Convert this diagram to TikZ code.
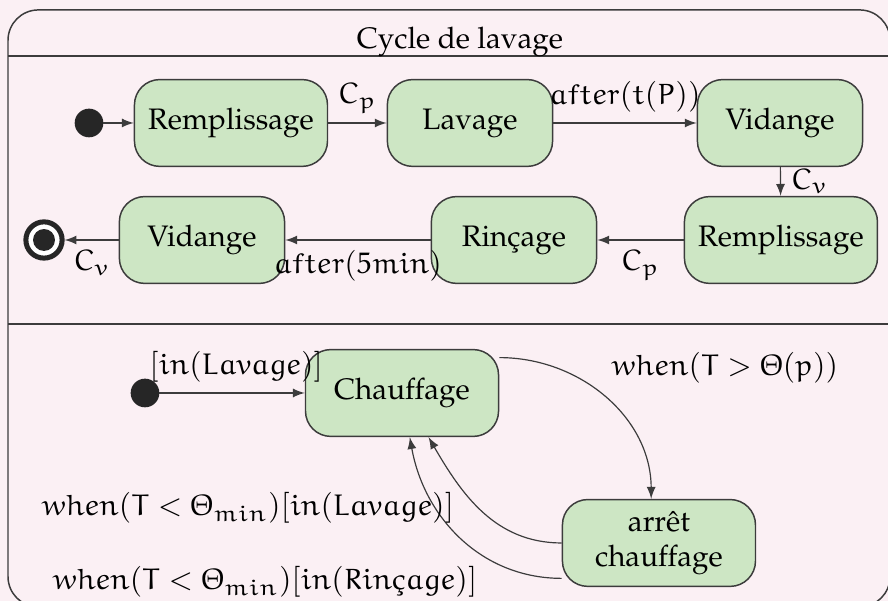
\documentclass[tikz,border=0pt]{standalone}
\usepackage[T1]{fontenc}
\usepackage{mathpazo}
\DeclareMathAlphabet{\eu}{U}{eur}{m}{n}
\usepackage{tikz}
\usetikzlibrary{arrows,shapes,calc,positioning}
\definecolor{rosePale}{RGB}{251,240,244}
\definecolor{vertEtat}{RGB}{205,230,196}
\definecolor{grisTrait}{RGB}{60,60,60}
\tikzstyle{edge}    =[->, >=latex, line width=0.4pt, draw=grisTrait]
\tikzstyle{etat}    =[rectangle, rounded corners=0.3cm, draw=grisTrait,
                      fill=vertEtat, line width=0.5pt, minimum width=1.96cm,
                      minimum height=1.03cm, inner sep=2pt, align=center]
\tikzstyle{Betat}   =[etat, minimum width=2.29cm]
\tikzstyle{initEtat}=[circle, fill=black!85, minimum size=0.34cm,
                      inner sep=0pt, outer sep=0pt]
\tikzstyle{finEtat} =[circle, draw=black!85, line width=1.7pt, fill=white,
                      minimum size=0.43cm, inner sep=0pt,
                      path picture={\fill[black!85] (path picture bounding box.center) circle (0.13cm);}]
\begin{document}
\begin{tikzpicture}
    \useasboundingbox (0,0) rectangle (10.534,7.129);
    \clip (0,0) rectangle (10.534,7.129);
    \fill[rosePale] (0,0) rectangle (10.534,7.129);

    % etat composite
    \draw[grisTrait, line width=0.5pt, rounded corners=0.36cm] (0.095,-0.071) rectangle (10.558,7.011);
    \draw[grisTrait, line width=0.5pt] (0.095,6.465) -- (10.558,6.465);
    \draw[grisTrait, line width=0.5pt] (0.095,3.286) -- (10.558,3.286);
    \draw (5.457,6.631) node (titre) {Cycle de lavage};

    % region du haut
    \draw (1.056,5.670) node (i1) [initEtat] {};
    \draw (2.740,5.670) node (r1) [Betat] {Remplissage};
    \draw (5.575,5.670) node (lav) [etat] {Lavage};
    \draw (9.253,5.670) node (v1) [etat] {Vidange};
    \draw (9.264,4.282) node (r2) [Betat] {Remplissage};
    \draw (6.097,4.282) node (rin) [etat] {Rin\c{c}age};
    \draw (2.396,4.282) node (v2) [etat] {Vidange};
    \draw (0.522,4.282) node (fin) [finEtat] {};

    \draw[edge] (i1) -- (r1);
    \draw[edge] (r1) -- node[above] {$\eu{C_p}$} (lav);
    \draw[edge] (lav) -- node[above] {$\eu{after(t(P))}$} (v1);
    \draw[edge] (v1) -- node[right] {$\eu{C_v}$} (r2);
    \draw[edge] (r2) -- node[below] {$\eu{C_p}$} (rin);
    \draw[edge] (rin) -- node[below] {$\eu{after(5min)}$} (v2);
    \draw[edge] (v2) -- node[below] {$\eu{C_v}$} (fin);

    % region du bas
    \draw (1.720,2.467) node (i2) [initEtat] {};
    \draw (4.769,2.467) node (ch) [Betat] {Chauffage};
    \draw (7.817,0.688) node (ar) [Betat] {arr\^et\\chauffage};

    \draw[edge] (i2) -- node[above, xshift=0.05cm] {$[\eu{in(Lavage)}]$} (ch);
    \draw[edge] (ch.20) to[out=0, in=90] (ar.100);
    \draw[edge] (ar.west) to[out=180, in=-60] (ch.-59);
    \draw[edge] (ar.200) to[out=180, in=-80] (ch.-80);

    \draw (8.600,2.764) node (lblChaud) {$\eu{when(T}>\eu{\Theta(p))}$};
    \draw (2.942,1.103) node (lblLav) {$\eu{when(T}<\eu{\Theta_{min})}[\eu{in(Lavage)}]$};
    \draw (3.144,0.225) node (lblRin) {$\eu{when(T}<\eu{\Theta_{min})}[\eu{in(Rin\mbox{\c{c}}age)}]$};
\end{tikzpicture}
\end{document}
